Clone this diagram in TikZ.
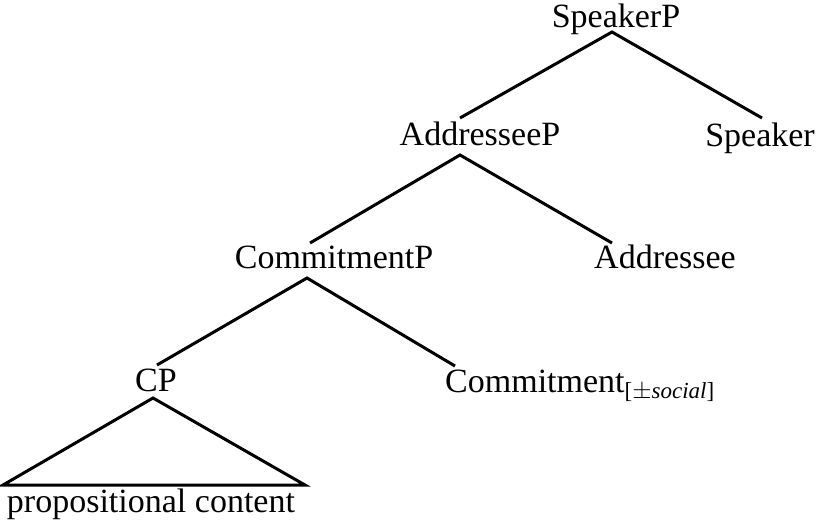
\documentclass[tikz,border=0pt]{standalone}
\usepackage{fontspec}
\setmainfont{Liberation Serif}
\usetikzlibrary{calc}
\begin{document}
\begin{tikzpicture}[x=1pt,y=1pt,
  lbl/.style={inner sep=0pt, anchor=base, font=\fontsize{34}{40}\selectfont},
  branch/.style={line width=3pt, line join=miter}]
\useasboundingbox (0,0) rectangle (827,-531);
\node[lbl] (sp) at (616,-27) {SpeakerP};
\node[lbl] (ap) at (480,-145) {AddresseeP};
\node[lbl] (s) at (760,-146) {Speaker};
\node[lbl] (cmp) at (334,-268) {CommitmentP};
\node[lbl] (a) at (665,-268) {Addressee};
\node[lbl] (cp) at (156,-391) {CP};
\node[lbl, anchor=base west] (c) at (445,-392) {Commitment\raisebox{-6pt}{\fontsize{23}{26}\selectfont[\ensuremath{\pm}\textit{social}]}};
\node[lbl] (pc) at (151,-512) {propositional content};
\draw[branch] ($(ap.base)+(-20,27)$) -- ($(sp.base)+(-4,-5)$) -- ($(s.base)+(2,28)$);
\draw[branch] ($(cmp.base)+(-24,25)$) -- ($(ap.base)+(-20,-10)$) -- ($(a.base)+(-53,25)$);
\draw[branch] ($(cp.base)+(1,26)$) -- ($(cmp.base)+(-27,-10)$) -- ($(c.base west)+(10,26)$);
\draw[branch] ($(cp.base)+(-3,-7)$) -- ($(pc.base)+(-148,27)$) -- ($(pc.base)+(154,27)$) -- cycle;
\end{tikzpicture}
\end{document}
